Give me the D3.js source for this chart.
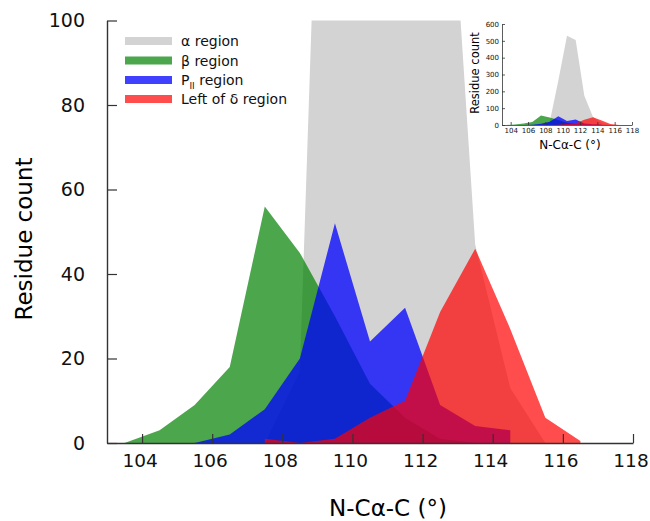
<!DOCTYPE html>
<html>
<head>
<meta charset="utf-8">
<script src="https://cdn.jsdelivr.net/npm/d3@7"></script>
<style>
  body { margin: 0; background: #fff; }
  .axis text { font-family: "DejaVu Sans", sans-serif; fill: #111; }
  .axis path, .axis line { stroke: #333; }
  .legend text { font-family: "DejaVu Sans", sans-serif; font-size: 14px; fill: #111; }
</style>
</head>
<body>
<div id="chart"></div>
<script>
// bin centres (degrees)
const bins = [103.5, 104.5, 105.5, 106.5, 107.5, 108.5, 109.5, 110.5, 111.5, 112.5, 113.5, 114.5, 115.5, 116.5];

// residue counts per bin, null = no point
const alphaCounts = [null, null, null, null, 0, 17, 265, 530, 505, 174, 47, 13, 0, null];
const betaCounts  = [0, 3, 9, 18, 56, 45, 30, 14, 6, 1, 0, null, null, null];
const ppiiCounts  = [null, null, 0, 2, 8, 20, 52, 24, 32, 9, 4, 3, null, null];
const deltaCounts = [null, null, null, null, 1, 0, 1, 6, 10, 31, 46, 27, 6, 0.5];

const seriesNames = ["α region", "β region", "PII region", "Left of δ region"];
const xTicks = [104, 106, 108, 110, 112, 114, 116, 118];
const yTicks = [0, 20, 40, 60, 80, 100];
const insetYTicks = [0, 100, 200, 300, 400, 500, 600];

const width = 650, height = 521;

const colors = ["rgb(211,211,211)", "rgb(0,128,0)", "rgb(0,0,255)", "rgb(255,0,0)"];
const opac = [1, 0.7, 0.75, 0.7];

function toPoints(arr) {
  return bins.map((b, i) => ({x: b, v: arr[i]})).filter(d => d.v !== null);
}

const series = [alphaCounts, betaCounts, ppiiCounts, deltaCounts].map(toPoints);

let svg;

function init() {
  svg = d3.select("#chart")
    .append("svg")
    .attr("width", width)
    .attr("height", height);

  // ---- main plot ----
  const xScale = d3.scaleLinear().domain([103, 118]).range([107, 633]);
  const yScale = d3.scaleLinear().domain([0, 100]).range([443, 20.5]);

  svg.append("clipPath")
    .attr("id", "clipMain")
    .append("rect")
    .attr("x", xScale(103)).attr("y", yScale(100))
    .attr("width", xScale(118) - xScale(103))
    .attr("height", yScale(0) - yScale(100));

  const area = d3.area()
    .x(d => xScale(d.x))
    .y0(yScale(0))
    .y1(d => yScale(d.v));

  svg.append("g")
    .attr("clip-path", "url(#clipMain)")
    .selectAll("path")
    .data(series)
    .enter()
    .append("path")
    .attr("d", area)
    .attr("fill", (d, i) => colors[i])
    .attr("fill-opacity", (d, i) => opac[i]);

  const xAxis = d3.axisBottom(xScale)
    .tickValues(xTicks)
    .tickSizeInner(-9)
    .tickSizeOuter(0)
    .tickPadding(11);

  const yAxis = d3.axisLeft(yScale)
    .tickValues(yTicks)
    .tickSizeInner(-10)
    .tickSizeOuter(0)
    .tickPadding(22);

  const gx = svg.append("g")
    .attr("class", "axis x-axis")
    .attr("transform", "translate(0," + yScale(0) + ")")
    .call(xAxis);
  gx.selectAll("text").style("font-size", "18.5px").attr("dx", -2.5);
  gx.select(".domain").attr("stroke-width", 1.4);
  gx.selectAll("line").attr("stroke-width", 1.2);

  const gy = svg.append("g")
    .attr("class", "axis y-axis")
    .attr("transform", "translate(" + xScale(103) + ",0)")
    .call(yAxis);
  gy.selectAll("text").style("font-size", "19px");
  gy.select(".domain").attr("stroke-width", 1.4);
  gy.selectAll("line").attr("stroke-width", 1.2);

  svg.append("text")
    .attr("x", 388)
    .attr("y", 516)
    .attr("text-anchor", "middle")
    .style("font-family", "DejaVu Sans, sans-serif")
    .style("font-size", "23px")
    .text("N-Cα-C (°)");

  svg.append("text")
    .attr("transform", "translate(32,239) rotate(-90)")
    .attr("text-anchor", "middle")
    .style("font-family", "DejaVu Sans, sans-serif")
    .style("font-size", "23px")
    .text("Residue count");

  // ---- legend ----
  const legend = svg.append("g").attr("class", "legend");
  const rowY = [41, 60.5, 80, 99];
  seriesNames.forEach((name, i) => {
    legend.append("rect")
      .attr("x", 125).attr("y", rowY[i] - 4)
      .attr("width", 47).attr("height", 8)
      .attr("fill", colors[i])
      .attr("fill-opacity", opac[i]);
    const t = legend.append("text")
      .attr("x", 181).attr("y", rowY[i] + 5);
    if (name === "PII region") {
      t.append("tspan").text("P");
      t.append("tspan").attr("dy", 3.5).style("font-size", "9px").text("II");
      t.append("tspan").attr("dy", -3.5).text(" region");
    } else {
      t.text(name);
    }
  });

  // ---- inset ----
  const ix = d3.scaleLinear().domain([103, 118]).range([502, 632]);
  const iy = d3.scaleLinear().domain([0, 600]).range([125, 24]);

  const iarea = d3.area()
    .x(d => ix(d.x))
    .y0(iy(0))
    .y1(d => iy(d.v));

  svg.append("g")
    .selectAll("path")
    .data(series)
    .enter()
    .append("path")
    .attr("d", iarea)
    .attr("fill", (d, i) => colors[i])
    .attr("fill-opacity", (d, i) => opac[i]);

  const ixAxis = d3.axisBottom(ix)
    .tickValues(xTicks)
    .tickSizeInner(-3)
    .tickSizeOuter(0)
    .tickPadding(3);
  const iyAxis = d3.axisLeft(iy)
    .tickValues(insetYTicks)
    .tickSizeInner(-3)
    .tickSizeOuter(0)
    .tickPadding(3);

  const igx = svg.append("g")
    .attr("class", "axis")
    .attr("transform", "translate(0," + iy(0) + ")")
    .call(ixAxis);
  igx.selectAll("text").style("font-size", "7px");
  igx.selectAll("path, line").attr("stroke-width", 0.8);

  const igy = svg.append("g")
    .attr("class", "axis")
    .attr("transform", "translate(" + ix(103) + ",0)")
    .call(iyAxis);
  igy.selectAll("text").style("font-size", "7px");
  igy.selectAll("path, line").attr("stroke-width", 0.8);

  svg.append("text")
    .attr("x", 570)
    .attr("y", 149)
    .attr("text-anchor", "middle")
    .style("font-family", "DejaVu Sans, sans-serif")
    .style("font-size", "12px")
    .text("N-Cα-C (°)");

  svg.append("text")
    .attr("transform", "translate(479,73) rotate(-90)")
    .attr("text-anchor", "middle")
    .style("font-family", "DejaVu Sans, sans-serif")
    .style("font-size", "11.5px")
    .text("Residue count");
}

init();
</script>
</body>
</html>
